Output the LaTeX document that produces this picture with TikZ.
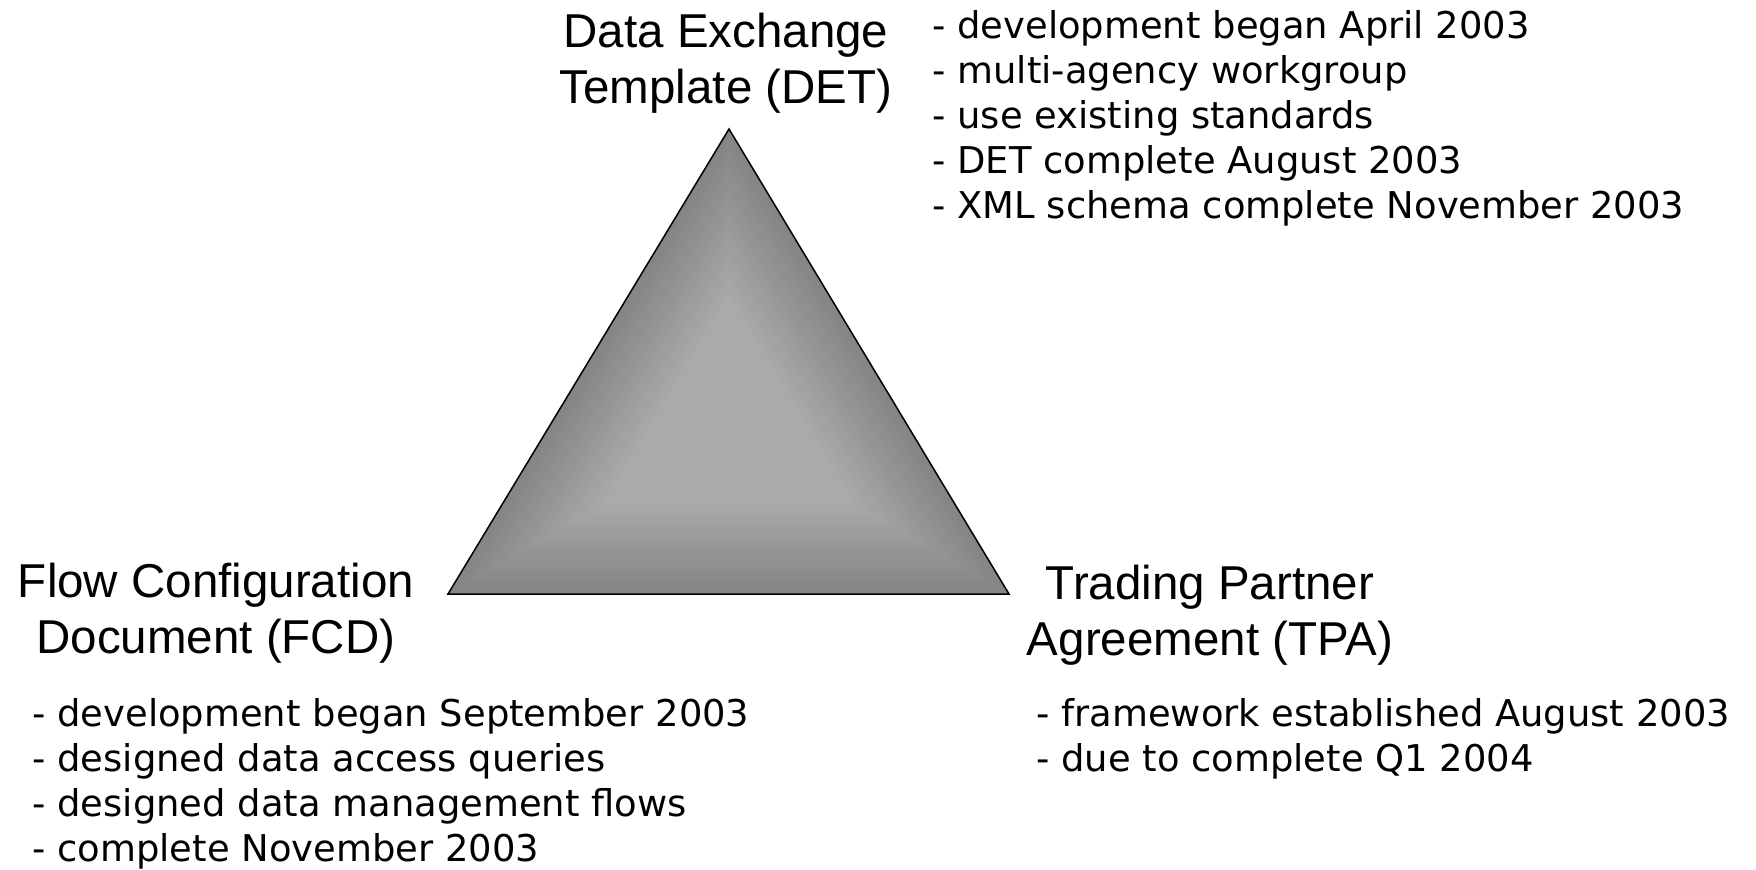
\documentclass[tikz,border=0pt]{standalone}
\usepackage{fontspec}
\setmainfont{Liberation Sans}
\newfontfamily\listfont{DejaVu Sans}
\usetikzlibrary{calc, positioning}
\tikzstyle{heading} = [align=center, inner sep=0pt, anchor=base, font=\fontsize{23.75}{28}\selectfont]
\tikzstyle{notes} = [align=left, inner sep=0pt, anchor=base west, font=\listfont\fontsize{18.45}{22.4}\selectfont]
\tikzstyle{pyramid} = [draw=black, line width=0.75pt, line join=miter]

\begin{document}
\begin{tikzpicture}[x=0.5pt, y=-0.5pt]
	\useasboundingbox (0,0) rectangle (1756,869);
	\coordinate (Top) at (729,129);
	\coordinate (Left) at (448,594);
	\coordinate (Right) at (1009,594);
	\coordinate (Glow) at (729,430);
	\foreach \i in {0,...,29} {
		\pgfmathsetmacro\shrink{1-\i*0.019}
		\pgfmathsetmacro\shade{48-\i*0.5}
		\fill[black!\shade!white] ($(Glow)!\shrink!(Top)$) -- ($(Glow)!\shrink!(Left)$) -- ($(Glow)!\shrink!(Right)$) -- cycle;
	}
	\draw [pyramid] (Top) -- (Left) -- (Right) -- cycle;
	\node (DET) [heading] at (726,103) {Data Exchange\\Template (DET)};
	\node (FCD) [heading] at (216,653) {Flow Configuration\\Document (FCD)};
	\node (TPA) [heading] at (1210,655) {Trading Partner\\Agreement (TPA)};
	\node (DETnotes) [notes] at (932,218) {- development began April 2003\\- multi-agency workgroup\\- use existing standards\\- DET complete August 2003\\- XML schema complete November 2003};
	\node (FCDnotes) [notes] at (32,861) {- development began September 2003\\- designed data access queries\\- designed data management flows\\- complete November 2003};
	\node (TPAnotes) [notes] at (1036,771) {- framework established August 2003\\- due to complete Q1 2004};
\end{tikzpicture}
\end{document}
